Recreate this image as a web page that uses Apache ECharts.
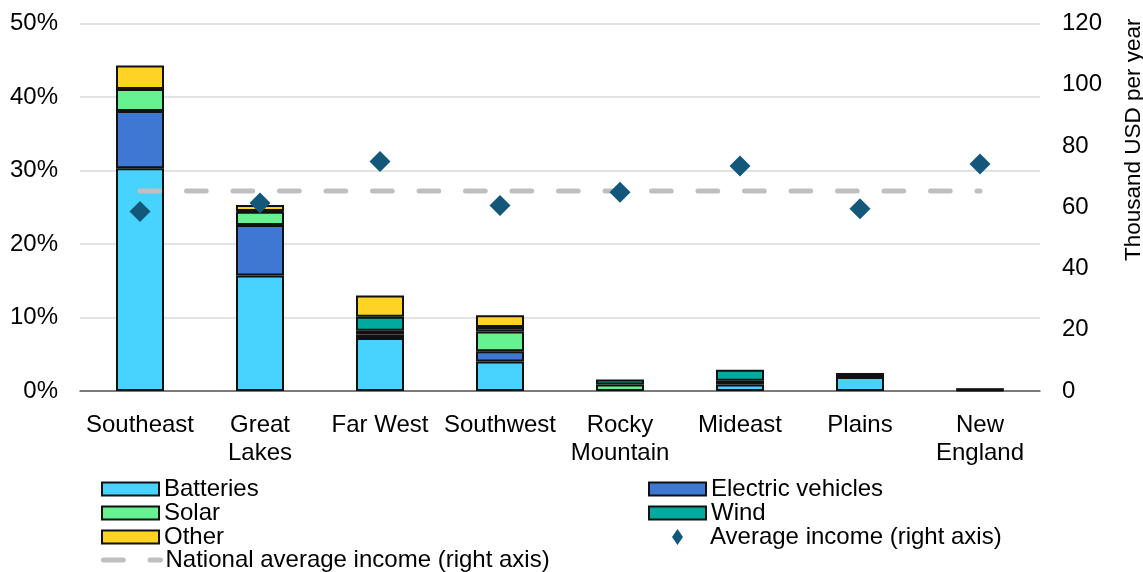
<!DOCTYPE html>
<html>
<head>
<meta charset="utf-8">
<script src="https://cdn.jsdelivr.net/npm/echarts@6/dist/echarts.min.js"></script>
<style>
html,body{margin:0;padding:0;background:#fff;overflow:hidden;width:1143px;height:572px;}
#chart{width:1143px;height:572px;}
</style>
</head>
<body>
<div id="chart"></div>
<script>
var categories = ['Southeast', 'Great\nLakes', 'Far West', 'Southwest', 'Rocky\nMountain', 'Mideast', 'Plains', 'New\nEngland'];
var batteries = [30.3, 15.7, 7.2, 4.0, null, 0.9, 1.9, 0.15];
var electricVehicles = [7.8, 6.9, 0.5, 1.4, null, null, null, null];
var solar = [3.0, 1.8, 0.5, 2.7, 0.9, 0.5, null, 0.05];
var wind = [null, 0.1, 1.9, 0.6, 0.65, 1.5, null, 0.05];
var other = [3.2, 0.8, 2.9, 1.6, null, null, 0.55, null];
var averageIncome = [58.6, 61.4, 74.9, 60.6, 64.9, 73.5, 59.5, 74.1];
var nationalAverage = [65.3, 65.3, 65.3, 65.3, 65.3, 65.3, 65.3, 65.3];
var leftTicks = [0, 10, 20, 30, 40, 50];
var rightTicks = [0, 20, 40, 60, 80, 100, 120];

var FONT = 'Liberation Sans, Arial, sans-serif';
var FS = 24;

function barSeries(name, data, color) {
  return {
    name: name, type: 'bar', stack: 'total', data: data, barWidth: '40%',
    yAxisIndex: 0,
    itemStyle: { color: color, borderColor: '#111', borderWidth: 2 },
    emphasis: { disabled: true }
  };
}

var legendText = { fontFamily: FONT, fontSize: FS, color: '#000', lineHeight: 24 };

var chart = echarts.init(document.getElementById('chart'), null, { renderer: 'canvas' });
chart.setOption({
  animation: false,
  textStyle: { fontFamily: FONT },
  grid: { left: 80, right: 103, top: 23.5, bottom: 181, containLabel: false, outerBoundsMode: 'none' },
  legend: [
    {
      orient: 'vertical', left: 101, top: 477, padding: 0, itemGap: 0, itemWidth: 57, itemHeight: 13,
      textStyle: legendText,
      data: [
        { name: 'Batteries', icon: 'rect' },
        { name: 'Solar', icon: 'rect' },
        { name: 'Other', icon: 'rect' }
      ]
    },
    {
      orient: 'vertical', left: 101, top: 548, padding: 0, itemGap: 0, itemWidth: 57, itemHeight: 13,
      textStyle: legendText,
      data: [
        { name: 'National average income (right axis)',
          itemStyle: { opacity: 0 },
          lineStyle: { width: 5, type: [19.7, 26.8], cap: 'round', color: '#bfbfbf' } }
      ]
    },
    {
      orient: 'vertical', left: 648, top: 477, padding: 0, itemGap: 0, itemWidth: 57, itemHeight: 13,
      textStyle: legendText,
      data: [
        { name: 'Electric vehicles', icon: 'rect' },
        { name: 'Wind', icon: 'rect' }
      ]
    },
    {
      orient: 'vertical', left: 672, top: 525, padding: 0, itemGap: 0, itemWidth: 11, itemHeight: 16,
      textStyle: { fontFamily: FONT, fontSize: FS, color: '#000', lineHeight: 24, padding: [0, 0, 0, 22] },
      data: [{ name: 'Average income (right axis)', icon: 'diamond' }]
    }
  ],
  xAxis: {
    type: 'category', data: categories, boundaryGap: true,
    axisLine: { lineStyle: { color: '#595959', width: 1.5 } },
    axisTick: { show: false },
    axisLabel: { color: '#000', fontFamily: FONT, fontSize: FS, lineHeight: 28, margin: 20, interval: 0 }
  },
  yAxis: [
    {
      type: 'value', min: leftTicks[0], max: leftTicks[leftTicks.length - 1], interval: 10,
      axisLine: { show: false }, axisTick: { show: false },
      axisLabel: { formatter: '{value}%', color: '#000', fontFamily: FONT, fontSize: FS, margin: 22 },
      splitLine: { lineStyle: { color: '#d9d9d9', width: 1.5 } }
    },
    {
      type: 'value', min: rightTicks[0], max: rightTicks[rightTicks.length - 1], interval: 20, position: 'right',
      axisLine: { show: false }, axisTick: { show: false },
      axisLabel: { color: '#000', fontFamily: FONT, fontSize: FS, margin: 22 },
      splitLine: { show: false },
      name: 'Thousand USD per year', nameLocation: 'middle', nameRotate: 90, nameGap: 82,
      nameTextStyle: { color: '#000', fontFamily: FONT, fontSize: 22.5, padding: [0, 0, 0, 135] }
    }
  ],
  series: [
    barSeries('Batteries', batteries, '#48d2fe'),
    barSeries('Electric vehicles', electricVehicles, '#3f78d3'),
    barSeries('Solar', solar, '#66f291'),
    barSeries('Wind', wind, '#00aa9e'),
    barSeries('Other', other, '#ffd324'),
    {
      name: 'National average income (right axis)', type: 'line', yAxisIndex: 1, data: nationalAverage,
      symbol: 'none', z: 5,
      lineStyle: { color: '#bfbfbf', width: 5, type: [19.7, 26.8], cap: 'round' },
      itemStyle: { color: '#bfbfbf' },
      emphasis: { disabled: true }
    },
    {
      name: 'Average income (right axis)', type: 'scatter', yAxisIndex: 1, data: averageIncome,
      symbol: 'diamond', symbolSize: [21, 21], z: 6,
      itemStyle: { color: '#13587a', opacity: 1 },
      emphasis: { disabled: true }
    }
  ]
});
</script>
</body>
</html>
